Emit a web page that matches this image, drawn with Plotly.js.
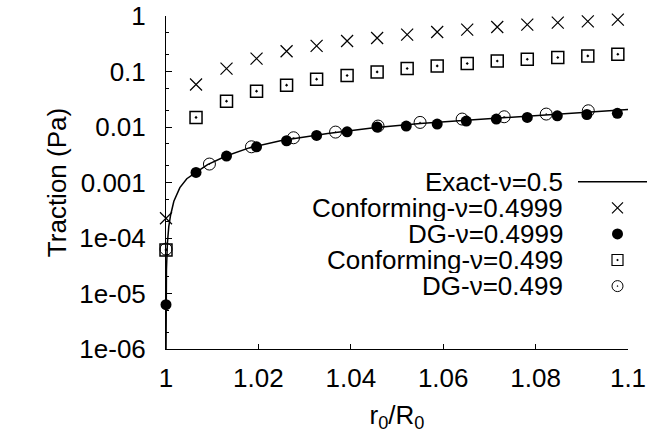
<!DOCTYPE html>
<html>
<head>
<meta charset="utf-8">
<script src="https://cdn.plot.ly/plotly-3.0.1.min.js"></script>
<style>html,body{margin:0;padding:0;background:#fff}#chart{width:647px;height:435px}</style>
</head>
<body>
<div id="chart"></div>
<script>
// Exact solution, nu = 0.5
var exactX = [1.0000037, 1.00001, 1.00003, 1.0001, 1.0003, 1.0006, 1.001, 1.0017, 1.003, 1.0045, 1.0065, 1.009, 1.013, 1.018, 1.025, 1.035, 1.045, 1.055, 1.065, 1.075, 1.085, 1.095, 1.1];
var exactY = [1e-6, 2.7e-6, 8e-6, 2.7e-5, 8e-5, 1.6e-4, 2.6e-4, 4.6e-4, 8.1e-4, 1.17e-3, 1.52e-3, 2.1e-3, 3.0e-3, 4.2e-3, 5.7e-3, 7.6e-3, 9.7e-3, 0.0116, 0.0133, 0.0150, 0.0168, 0.0188, 0.0206];

// Conforming mesh points
var confX = [1.0, 1.0065, 1.0131, 1.0196, 1.0261, 1.0326, 1.0392, 1.0457, 1.0522, 1.0587, 1.0652, 1.0717, 1.0782, 1.0848, 1.0913, 1.0978];
var conf4999Y = [2.27e-4, 0.0584, 0.113, 0.171, 0.232, 0.289, 0.355, 0.402, 0.463, 0.515, 0.569, 0.634, 0.70, 0.76, 0.80, 0.86];
var conf499Y = [6.1e-5, 0.0149, 0.0292, 0.0442, 0.0567, 0.0727, 0.0847, 0.0984, 0.113, 0.126, 0.139, 0.155, 0.166, 0.179, 0.191, 0.205];

// DG nu = 0.4999
var dg4999X = [1.0, 1.0065, 1.0131, 1.0196, 1.0261, 1.0326, 1.0392, 1.0457, 1.0520, 1.0587, 1.0650, 1.0715, 1.0782, 1.0847, 1.0911, 1.0977];
var dg4999Y = [6.3e-6, 0.00152, 0.0030, 0.0044, 0.00565, 0.00706, 0.0082, 0.0100, 0.0104, 0.01127, 0.01277, 0.01387, 0.0149, 0.0159, 0.0168, 0.0176];

// DG nu = 0.499
var dg499X = [1.0, 1.0094, 1.0185, 1.0276, 1.0367, 1.0459, 1.0550, 1.0641, 1.0732, 1.0823, 1.0914];
var dg499Y = [6.3e-5, 0.00215, 0.0044, 0.0064, 0.0081, 0.0104, 0.0121, 0.0139, 0.0153, 0.0171, 0.0196];

var xTicks = [1, 1.02, 1.04, 1.06, 1.08, 1.1];
var xTickText = ["1", "1.02", "1.04", "1.06", "1.08", "1.1"];
var yTicks = [1e-6, 1e-5, 1e-4, 1e-3, 1e-2, 1e-1, 1];
var yTickText = ["1e-06", "1e-05", "1e-04", "0.001", "0.01", "0.1", "1"];

var legendNames = ["Exact-\u03bd=0.5", "Conforming-\u03bd=0.4999", "DG-\u03bd=0.4999", "Conforming-\u03bd=0.499", "DG-\u03bd=0.499"];

var FONT = "Liberation Sans, Arial, Helvetica, sans-serif";
var FS = 26;

var traces = [
  {x: exactX, y: exactY, mode: 'lines', line: {color: 'black', width: 1.5}, name: legendNames[0], showlegend: false},
  {x: confX, y: conf4999Y, mode: 'markers', marker: {symbol: 'x-thin-open', size: 12, color: 'black', line: {color: 'black', width: 1.2}}, name: legendNames[1], showlegend: false, cliponaxis: false},
  {x: dg4999X, y: dg4999Y, mode: 'markers', marker: {symbol: 'circle', size: 11, color: 'black'}, name: legendNames[2], showlegend: false, cliponaxis: false},
  {x: confX, y: conf499Y, mode: 'markers', marker: {symbol: 'square-open-dot', size: 12, color: 'black', line: {color: 'black', width: 1.5}}, name: legendNames[3], showlegend: false, cliponaxis: false},
  {x: dg499X, y: dg499Y, mode: 'markers', marker: {symbol: 'circle-open-dot', size: 12, color: 'black', line: {color: 'black', width: 1}}, name: legendNames[4], showlegend: false, cliponaxis: false}
];

// Legend (gnuplot style: text right-aligned, sample on the right)
var L = {l: 166, r: 19, t: 16, b: 86};
var plotW = 647 - L.l - L.r, plotH = 435 - L.t - L.b;
function px(x) { return (x - L.l) / plotW; }
function py(y) { return (435 - L.b - y) / plotH; }
var rowY = [181.7, 207.8, 233.9, 260.0, 286.1];
var textRight = 564, symX = 617.5;

var legSymbols = [null,
  {symbol: 'x-thin-open', size: 11, color: 'black', line: {color: 'black', width: 1.2}},
  {symbol: 'circle', size: 11, color: 'black'},
  {symbol: 'square-open-dot', size: 11, color: 'black', line: {color: 'black', width: 1.2}},
  {symbol: 'circle-open-dot', size: 11, color: 'black', line: {color: 'black', width: 1}}];
for (var i = 1; i < 5; i++) {
  traces.push({x: [px(symX)], y: [py(rowY[i])], xaxis: 'x2', yaxis: 'y2', mode: 'markers', marker: legSymbols[i], showlegend: false, hoverinfo: 'skip', cliponaxis: false});
}
var annotations = legendNames.map(function (n, i) {
  return {text: n, xref: 'paper', yref: 'paper', x: px(textRight), y: py(rowY[i]), xanchor: 'right', yanchor: 'middle', height: 26, valign: 'middle', borderpad: 0, showarrow: false, font: {family: FONT, size: FS, color: 'black'}};
});
var shapes = [{type: 'line', xref: 'paper', yref: 'paper', x0: px(578), x1: px(647), y0: py(rowY[0]), y1: py(rowY[0]), line: {color: 'black', width: 1.5}}];

var layout = {
  width: 647, height: 435,
  margin: L,
  paper_bgcolor: 'white', plot_bgcolor: 'white',
  font: {family: FONT, size: FS, color: 'black'},
  showlegend: false,
  xaxis: {
    range: [1, 1.1], tickmode: 'array', tickvals: xTicks, ticktext: xTickText,
    ticks: 'inside', ticklen: 5, tickwidth: 1, tickcolor: 'black',
    showline: true, linecolor: 'black', linewidth: 1, showgrid: false, zeroline: false,
    ticklabelstandoff: 6,
    title: {text: 'r<sub>0</sub>/R<sub>0</sub>', font: {family: FONT, size: FS}, standoff: 13}
  },
  yaxis: {
    type: 'log', range: [-6, 0], tickmode: 'array', tickvals: yTicks, ticktext: yTickText,
    ticks: 'inside', ticklen: 6, tickwidth: 1, tickcolor: 'black',
    minor: {ticks: 'inside', ticklen: 3, dtick: 'D2', tickcolor: 'black', showgrid: false},
    showline: true, linecolor: 'black', linewidth: 1, showgrid: false, zeroline: false,
    ticklabelstandoff: 14,
    title: {text: 'Traction (Pa)', font: {family: FONT, size: FS}, standoff: 5}
  },
  xaxis2: {range: [0, 1], overlaying: 'x', visible: false, fixedrange: true},
  yaxis2: {range: [0, 1], overlaying: 'y', visible: false, fixedrange: true},
  annotations: annotations,
  shapes: shapes
};

Plotly.newPlot('chart', traces, layout, {displayModeBar: false, staticPlot: true});
</script>
</body>
</html>
